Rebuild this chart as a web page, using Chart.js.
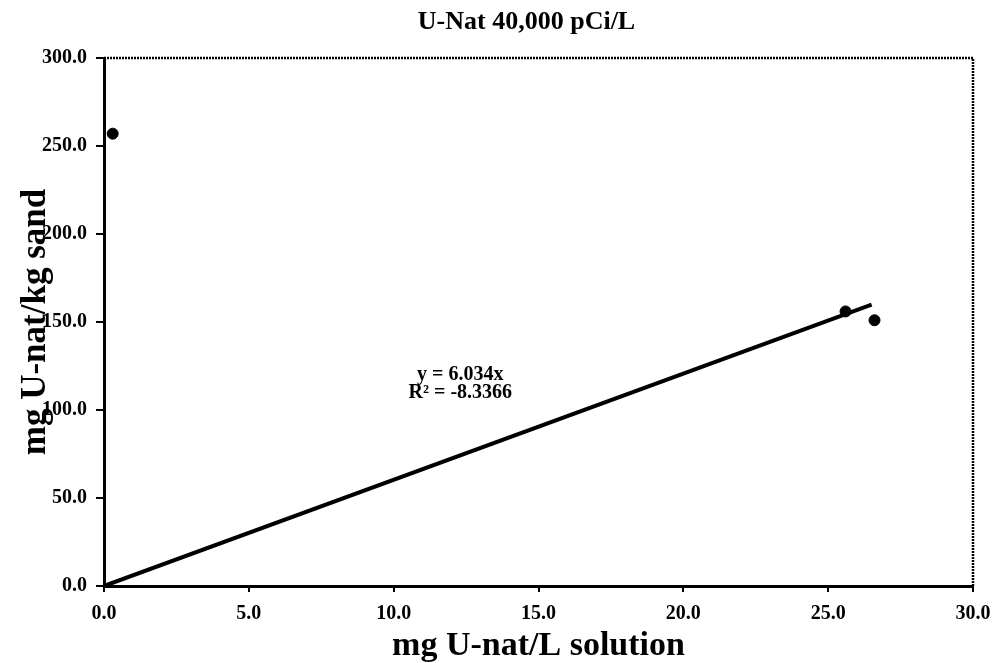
<!DOCTYPE html>
<html>
<head>
<meta charset="utf-8">
<script src="https://cdn.jsdelivr.net/npm/chart.js@4.4.0/dist/chart.umd.min.js"></script>
<style>
  html, body { margin: 0; padding: 0; background: #fff; }
  #wrap { width: 993px; height: 663px; }
</style>
</head>
<body>
<div id="wrap"><canvas id="myChart" width="993" height="663"></canvas></div>
<script>
// data
const sampleX = [0.3, 25.6, 26.6];
const sampleY = [257, 156, 151];
// trendline endpoints (y = 6.034x)
const trendX = [0, 26.5];
const trendY = [0, 159.9];
const xTicks = [0, 5, 10, 15, 20, 25, 30];
const yTicks = [0, 50, 100, 150, 200, 250, 300];
const chartTitle = 'U-Nat 40,000 pCi/L';
const trendText = ['y = 6.034x', 'R² = -8.3366'];

const serif = "'Liberation Serif', 'Times New Roman', serif";

// title (a bit right of centre), top/right frame, equation label
const framePlugin = {
  id: 'frame',
  afterDraw(chart) {
    const c = chart.ctx, a = chart.chartArea;
    c.save();
    c.strokeStyle = '#000';
    c.lineWidth = 2.5;
    c.setLineDash([2, 1]);
    c.beginPath();
    c.moveTo(a.left, a.top);
    c.lineTo(a.right, a.top);
    c.lineTo(a.right, a.bottom);
    c.stroke();
    c.setLineDash([]);
    c.fillStyle = '#000';
    c.textAlign = 'center';
    c.textBaseline = 'alphabetic';
    c.font = 'bold 26px ' + serif;
    c.fillText(chartTitle, (a.left + a.right) / 2 - 12, 29);
    c.font = 'bold 20px ' + serif;
    const px = chart.scales.x.getPixelForValue(12.3);
    const py = chart.scales.y.getPixelForValue(117);
    c.fillText(trendText[0], px, py);
    c.fillText(trendText[1], px, py + 18);
    c.restore();
  }
};

const ctx = document.getElementById('myChart');

new Chart(ctx, {
  type: 'scatter',
  data: {
    datasets: [
      {
        label: 'U-Nat',
        data: sampleX.map((x, i) => ({ x: x, y: sampleY[i] })),
        backgroundColor: '#000',
        borderColor: '#000',
        pointRadius: 5.5,
        pointHoverRadius: 5.5
      },
      {
        label: 'Linear',
        data: trendX.map((x, i) => ({ x: x, y: trendY[i] })),
        showLine: true,
        borderColor: '#000',
        borderWidth: 4,
        pointRadius: 0
      }
    ]
  },
  options: {
    responsive: false,
    animation: false,
    layout: { padding: { top: 58, right: 20, left: 0, bottom: 0 } },
    plugins: {
      legend: { display: false },
      tooltip: { enabled: false },
      title: { display: false }
    },
    scales: {
      x: {
        type: 'linear',
        min: 0,
        max: 30,
        afterBuildTicks: s => { s.ticks = xTicks.map(v => ({ value: v })); },
        afterFit: s => { s.height = 77; s.paddingRight = 0; s.paddingLeft = 0; },
        ticks: {
          color: '#000',
          font: { family: serif, size: 20, weight: 'bold' },
          callback: v => v.toFixed(1),
          padding: 10,
          maxRotation: 0
        },
        grid: { drawOnChartArea: false, drawTicks: true, tickLength: 6, color: '#000', lineWidth: 2 },
        border: { color: '#000', width: 3 },
        title: {
          display: true,
          text: 'mg U-nat/L solution',
          color: '#000',
          font: { family: serif, size: 34, weight: 'bold', lineHeight: 1 },
          padding: { top: 0, bottom: 0 }
        }
      },
      y: {
        type: 'linear',
        min: 0,
        max: 300,
        afterBuildTicks: s => { s.ticks = yTicks.map(v => ({ value: v })); },
        afterFit: s => { s.width = 104; },
        ticks: {
          color: '#000',
          font: { family: serif, size: 20, weight: 'bold' },
          callback: v => v.toFixed(1),
          padding: 9
        },
        grid: { drawOnChartArea: false, drawTicks: true, tickLength: 8, color: '#000', lineWidth: 2 },
        border: { color: '#000', width: 3 },
        title: {
          display: true,
          text: 'mg U-nat/kg sand',
          color: '#000',
          font: { family: serif, size: 35, weight: 'bold', lineHeight: 1.2 },
          padding: { top: 15, bottom: 0 }
        }
      }
    }
  },
  plugins: [framePlugin]
});
</script>
</body>
</html>
